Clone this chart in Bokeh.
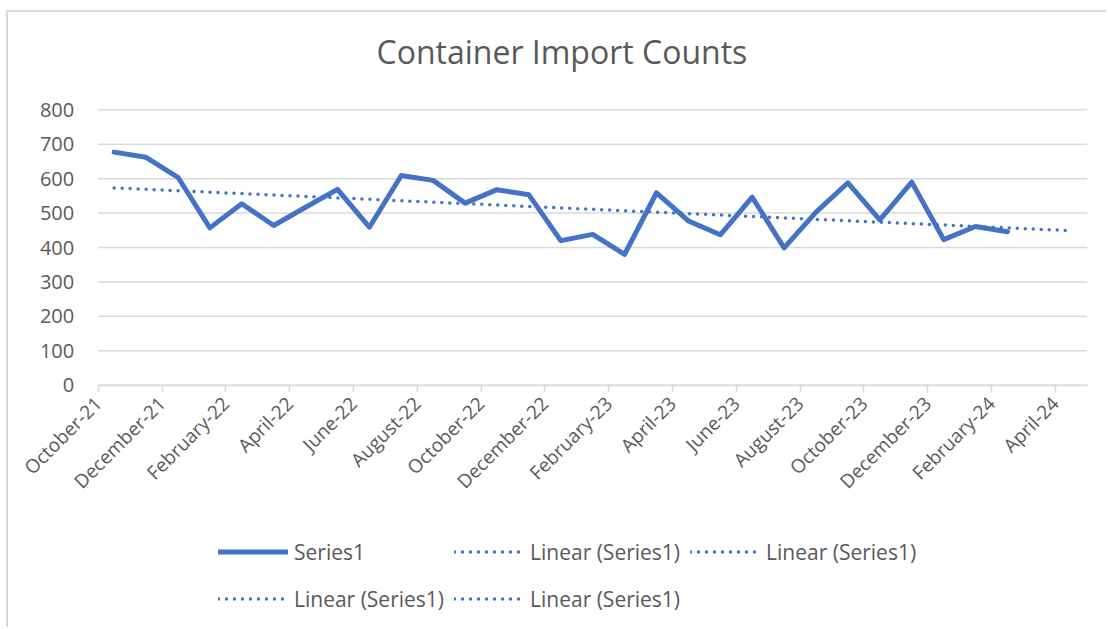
import numpy as np
from bokeh.plotting import figure
from bokeh.models import (ColumnDataSource, Legend, LegendItem, FixedTicker,
                          Range1d, Label)
from bokeh.embed import file_html
from bokeh.resources import INLINE

# ---- data ----
months = ["Oct-21", "Nov-21", "Dec-21", "Jan-22", "Feb-22", "Mar-22", "Apr-22",
          "May-22", "Jun-22", "Jul-22", "Aug-22", "Sep-22", "Oct-22", "Nov-22",
          "Dec-22", "Jan-23", "Feb-23", "Mar-23", "Apr-23", "May-23", "Jun-23",
          "Jul-23", "Aug-23", "Sep-23", "Oct-23", "Nov-23", "Dec-23", "Jan-24",
          "Feb-24"]
counts = [677, 662, 604, 457, 527, 464, 517, 569, 459, 609, 595, 529, 568, 553,
          420, 438, 380, 559, 477, 437, 546, 399, 503, 588, 480, 590, 423, 461,
          446]
tick_labels = ["October-21", "December-21", "February-22", "April-22", "June-22",
               "August-22", "October-22", "December-22", "February-23", "April-23",
               "June-23", "August-23", "October-23", "December-23", "February-24",
               "April-24"]
forecast_periods = 2
y_ticks = [0, 100, 200, 300, 400, 500, 600, 700, 800]

# ---- derived (slot positions on a monthly date axis) ----
n_slots = len(tick_labels) * 2 - 1          # Oct-21 .. Apr-24 month slots
idx = np.arange(len(counts))
x_pts = idx + 0.5
slope, intercept = np.polyfit(idx, counts, 1)
t_idx = np.arange(len(counts) + forecast_periods)
trend = slope * t_idx + intercept

src = ColumnDataSource(dict(x=x_pts, y=counts, m=months))
tsrc = ColumnDataSource(dict(x=t_idx + 0.5, y=trend))

BLUE = "#4472C4"
TXT = "#595959"
GRID = "#d9d9d9"
FONT = "Open Sans"

# ---- layout (pixels) ----
W, H = 1100, 617
AREA_LEFT, AREA_W = 89.7, 989.0        # plot area inside the canvas
AREA_TOP, AREA_H = 97.3, 275.4
px_x = AREA_W / n_slots
px_y = AREA_H / 800.0
x_start = -AREA_LEFT / px_x
x_end = x_start + W / px_x
y_end = 800 + AREA_TOP / px_y
y_start = y_end - H / px_y

p = figure(width=W, height=H, output_backend="svg", toolbar_location=None,
           title=None,
           x_range=Range1d(x_start, x_end), y_range=Range1d(y_start, y_end),
           min_border_left=0, min_border_right=0,
           min_border_top=0, min_border_bottom=0)

p.outline_line_color = None
p.background_fill_color = "white"
p.border_fill_color = "white"
p.styles = {"margin-left": "6px", "margin-top": "10px",
            "border-left": "2px solid #d9d9d9", "border-top": "2px solid #d9d9d9"}

p.xgrid.grid_line_color = None
p.ygrid.grid_line_color = None

# horizontal gridlines across the plot area only
p.segment(x0=0, x1=n_slots, y0=y_ticks, y1=y_ticks, line_color=GRID,
          line_width=1.5)

line_r = p.line("x", "y", source=src, line_color=BLUE, line_width=5,
                line_join="round", line_cap="round")
trend_r = p.line("x", "y", source=tsrc, line_color=BLUE, line_width=3.5,
                 line_dash="0 8", line_cap="round")

# title
p.add_layout(Label(x=368, y=H - 39, x_units="screen", y_units="screen",
                   text="Container Import Counts", text_font=FONT,
                   text_font_size="32px", text_color=TXT,
                   text_align="left", text_baseline="alphabetic"))

# x axis, pinned at value 0
xa = p.xaxis[0]
xa.fixed_location = 0
xa.bounds = (0, n_slots)
xa.ticker = FixedTicker(ticks=[2 * i for i in range(len(tick_labels))])
xa.major_label_overrides = {2 * i: lab for i, lab in enumerate(tick_labels)}
xa.major_label_orientation = np.pi / 4
xa.major_label_text_font = FONT
xa.major_label_text_font_size = "19px"
xa.major_label_text_color = TXT
xa.major_label_standoff = 8
xa.axis_line_color = GRID
xa.axis_line_width = 1.5
xa.major_tick_line_color = GRID
xa.major_tick_line_width = 1.5
xa.major_tick_in = 0
xa.major_tick_out = 7
xa.minor_tick_line_color = None

# y axis, pinned at the start of the plot area
ya = p.yaxis[0]
ya.fixed_location = 0
ya.bounds = (0, 800)
ya.ticker = FixedTicker(ticks=y_ticks)
ya.major_label_text_font = FONT
ya.major_label_text_font_size = "20px"
ya.major_label_text_color = TXT
ya.major_label_standoff = 24
ya.major_tick_in = 0
ya.major_tick_out = 0
ya.axis_line_color = None
ya.major_tick_line_color = None
ya.minor_tick_line_color = None

items = [LegendItem(label="Series1", renderers=[line_r])]
for _ in range(4):
    items.append(LegendItem(label="Linear (Series1)", renderers=[trend_r]))

legend = Legend(items=items, location=(210, 12), orientation="horizontal",
                ncols=3, label_text_font=FONT, label_text_font_size="21px",
                label_text_color=TXT, glyph_width=70, glyph_height=37,
                label_height=37, label_standoff=6, spacing=10, padding=10,
                margin=0, border_line_color=None, background_fill_alpha=0)
p.add_layout(legend, "center")

open("out.html", "w").write(file_html(p, INLINE))
